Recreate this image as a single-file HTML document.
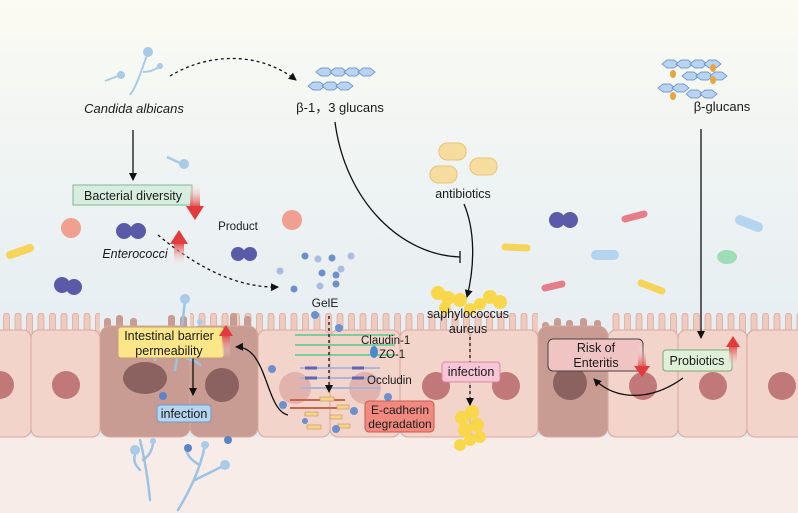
<!DOCTYPE html>
<html><head><meta charset="utf-8"><style>
html,body{margin:0;padding:0;width:798px;height:513px;overflow:hidden}
svg{display:block}
text{font-family:"Liberation Sans",sans-serif;fill:#1a1a1a}
</style></head><body>
<svg width="798" height="513" viewBox="0 0 798 513" xmlns="http://www.w3.org/2000/svg">
<defs>
<linearGradient id="bg" x1="0" y1="0" x2="0" y2="1">
<stop offset="0" stop-color="#fbfbf3"/><stop offset="0.35" stop-color="#eef3f3"/><stop offset="1" stop-color="#dfe8f1"/>
</linearGradient>
<linearGradient id="rd" x1="0" y1="0" x2="0" y2="1"><stop offset="0" stop-color="#fff" stop-opacity="0"/><stop offset="1" stop-color="#e23b3b"/></linearGradient>
<linearGradient id="ru" x1="0" y1="1" x2="0" y2="0"><stop offset="0" stop-color="#fff" stop-opacity="0"/><stop offset="1" stop-color="#e23b3b"/></linearGradient>
<marker id="ah" markerWidth="8" markerHeight="8" refX="7" refY="4" orient="auto" markerUnits="userSpaceOnUse"><path d="M0,0 L8,4 L0,8 Z" fill="#111"/></marker>
<pattern id="villi" x="3" y="313" width="11.5" height="30" patternUnits="userSpaceOnUse">
<rect x="0.5" y="0" width="6" height="24" rx="3" fill="#efcabf" stroke="#d6a597" stroke-width="0.7"/>
</pattern>
</defs>
<rect width="798" height="513" fill="url(#bg)"/>
<rect y="437" width="798" height="76" fill="#f8ece8"/>

<!-- microvilli -->
<rect x="0" y="313" width="100" height="22" fill="url(#villi)"/>
<rect x="190" y="313" width="348" height="22" fill="url(#villi)"/>
<rect x="608" y="313" width="190" height="22" fill="url(#villi)"/>
<!-- dark cell villi -->
<g fill="#c99c93">
<rect x="104" y="318" width="7" height="14" rx="3"/><rect x="116" y="315" width="7" height="14" rx="3"/><rect x="130" y="318" width="7" height="14" rx="3"/><rect x="168" y="315" width="7" height="14" rx="3"/><rect x="180" y="316" width="7" height="14" rx="3"/><rect x="230" y="313" width="7" height="18" rx="3"/><rect x="244" y="316" width="7" height="14" rx="3"/>
<rect x="542" y="322" width="7" height="12" rx="3"/><rect x="554" y="318" width="7" height="14" rx="3"/><rect x="566" y="320" width="7" height="14" rx="3"/><rect x="580" y="318" width="7" height="14" rx="3"/><rect x="594" y="320" width="7" height="14" rx="3"/>
</g>
<!-- cells -->
<g stroke="#d9a99c" stroke-width="1">
<rect x="-10" y="330" width="41" height="107" rx="8" fill="#f3d4ca"/>
<rect x="31" y="330" width="69" height="107" rx="8" fill="#f3d4ca"/>
<rect x="100" y="326" width="90" height="111" rx="10" fill="#c99c93"/>
<rect x="190" y="326" width="68" height="111" rx="10" fill="#c99c93"/>
<rect x="258" y="330" width="72" height="107" rx="8" fill="#f3d4ca"/>
<rect x="330" y="330" width="70" height="107" rx="8" fill="#f3d4ca"/>
<rect x="400" y="330" width="70" height="107" rx="8" fill="#f3d4ca"/>
<rect x="470" y="330" width="68" height="107" rx="8" fill="#f3d4ca"/>
<rect x="538" y="326" width="70" height="111" rx="10" fill="#c99c93"/>
<rect x="608" y="330" width="70" height="107" rx="8" fill="#f3d4ca"/>
<rect x="678" y="330" width="69" height="107" rx="8" fill="#f3d4ca"/>
<rect x="747" y="330" width="60" height="107" rx="8" fill="#f3d4ca"/>
</g>
<!-- nuclei -->
<g fill="#c07878">
<circle cx="0" cy="385" r="14"/><circle cx="66" cy="385" r="14"/><circle cx="436" cy="386" r="14"/><circle cx="506" cy="386" r="14"/><circle cx="643" cy="386" r="14"/><circle cx="713" cy="386" r="14"/><circle cx="782" cy="386" r="14"/>
</g>
<g fill="#e2b3ac"><circle cx="295" cy="388" r="16"/><circle cx="365" cy="388" r="16"/></g>
<g fill="#8c6260"><ellipse cx="145" cy="378" rx="22" ry="16"/><ellipse cx="222" cy="385" rx="17" ry="17"/><circle cx="570" cy="383" r="17"/></g>

<!-- tight junctions -->
<g fill="none" stroke-width="2">
<path d="M295,335 H395 M295,345 H395 M295,355 H395" stroke="#7ccc9c"/>
<path d="M300,368 H380 M300,378 H380 M300,388 H380" stroke="#aab6e0"/>
<path d="M305,368 h12 M305,378 h12 M352,368 h12 M352,378 h12" stroke="#5a66b8" stroke-width="3"/>
<path d="M290,400 H345 M290,408 H345" stroke="#c8654f"/>
</g>
<g fill="#f5d48e" stroke="#c8914f" stroke-width="0.6">
<rect x="320" y="397" width="14" height="4"/><rect x="337" y="405" width="12" height="4"/><rect x="305" y="412" width="13" height="4"/><rect x="330" y="415" width="12" height="4"/><rect x="307" y="425" width="14" height="4"/><rect x="338" y="424" width="12" height="4"/>
</g>
<ellipse cx="374" cy="352" rx="4" ry="6" fill="#4b8ac9"/>
<g fill="#6c8fcf">
<circle cx="315" cy="315" r="4"/><circle cx="339" cy="328" r="4"/><circle cx="272" cy="369" r="4"/><circle cx="388" cy="397" r="4"/><circle cx="283" cy="405" r="4"/><circle cx="354" cy="411" r="4"/><circle cx="336" cy="429" r="4"/><circle cx="305" cy="421" r="3"/>
</g>

<!-- candida hyphae -->
<g stroke="#9cc3e3" stroke-width="2.5" fill="none" stroke-linecap="round">
<path d="M185,300 C183,320 180,345 175,370 M175,335 C165,340 160,345 155,360 M178,355 C190,360 196,360 200,365"/>
<path d="M150,500 C148,480 145,460 140,440 M143,460 C150,455 152,450 153,443 M140,470 C135,465 133,460 135,455"/>
<path d="M178,510 C190,490 200,470 205,445 M195,480 C205,475 215,470 225,465 M200,465 C190,460 188,455 186,450"/>
</g>
<g fill="#a9cbe8"><circle cx="185" cy="299" r="5"/><circle cx="200" cy="322" r="3"/><circle cx="135" cy="450" r="5"/><circle cx="153" cy="441" r="3"/><circle cx="225" cy="465" r="5"/><circle cx="205" cy="445" r="4"/></g>
<g fill="#5c84c4"><circle cx="163" cy="396" r="4"/><circle cx="188" cy="448" r="4"/><circle cx="228" cy="440" r="4"/></g>

<!-- staph -->
<g fill="#f8d84a">
<circle cx="438" cy="293" r="7"/><circle cx="448" cy="298" r="7"/><circle cx="460" cy="300" r="7"/><circle cx="490" cy="297" r="7"/><circle cx="500" cy="302" r="7"/><circle cx="480" cy="304" r="6"/><circle cx="470" cy="309" r="6"/><circle cx="445" cy="308" r="6"/>
<circle cx="462" cy="418" r="7"/><circle cx="472" cy="412" r="7"/><circle cx="477" cy="425" r="7"/><circle cx="465" cy="430" r="7"/><circle cx="470" cy="440" r="6"/><circle cx="460" cy="445" r="6"/><circle cx="480" cy="437" r="6"/>
</g>

<!-- free bacteria -->
<g>
<circle cx="62" cy="285" r="8" fill="#5a5aa8"/><circle cx="74" cy="287" r="8" fill="#5a5aa8"/>
<circle cx="124" cy="231" r="8" fill="#5a5aa8"/><circle cx="138" cy="231" r="8" fill="#5a5aa8"/>
<circle cx="238" cy="254" r="7" fill="#5a5aa8"/><circle cx="250" cy="254" r="7" fill="#5a5aa8"/>
<circle cx="557" cy="220" r="8" fill="#5a5aa8"/><circle cx="570" cy="220" r="8" fill="#5a5aa8"/>
<circle cx="71" cy="228" r="10" fill="#f0a090"/><circle cx="292" cy="220" r="10" fill="#f0a090"/>
<line x1="10" y1="255" x2="30" y2="248" stroke="#f6d45a" stroke-width="8" stroke-linecap="round"/>
<line x1="505" y1="247" x2="527" y2="248" stroke="#f6d45a" stroke-width="7" stroke-linecap="round"/>
<line x1="641" y1="283" x2="662" y2="291" stroke="#f6d45a" stroke-width="7" stroke-linecap="round"/>
<line x1="625" y1="219" x2="644" y2="214" stroke="#e77d8a" stroke-width="7" stroke-linecap="round"/>
<line x1="545" y1="288" x2="562" y2="284" stroke="#e77d8a" stroke-width="7" stroke-linecap="round"/>
<line x1="596" y1="255" x2="614" y2="255" stroke="#b4d4ef" stroke-width="10" stroke-linecap="round"/>
<line x1="740" y1="220" x2="758" y2="227" stroke="#b4d4ef" stroke-width="10" stroke-linecap="round"/>
<ellipse cx="727" cy="257" rx="10" ry="7" fill="#9fdcb8"/>
<circle cx="184" cy="164" r="5" fill="#a9cbe8"/><path d="M167,157 L182,164" stroke="#a9cbe8" stroke-width="2.5"/>
</g>
<g fill="#6c8fcf"><circle cx="305" cy="256" r="3.5"/><circle cx="332" cy="258" r="3.5"/><circle cx="322" cy="273" r="3.5"/><circle cx="336" cy="275" r="3.5"/><circle cx="294" cy="289" r="3.5"/><circle cx="336" cy="284" r="3.5"/></g>
<g fill="#aabde0"><circle cx="318" cy="259" r="3.5"/><circle cx="351" cy="256" r="3.5"/><circle cx="341" cy="269" r="3.5"/><circle cx="280" cy="271" r="3.5"/><circle cx="320" cy="286" r="3.5"/></g>

<!-- candida top -->
<g stroke="#a9cbe8" stroke-width="2" fill="none"><path d="M130,95 C137,85 140,75 148,52 M143,72 C150,72 155,70 160,66 M105,81 L118,76"/></g>
<g fill="#a9cbe8"><circle cx="148" cy="52" r="5"/><circle cx="160" cy="66" r="3"/><circle cx="121" cy="75" r="4"/></g>

<!-- glucans -->
<g fill="#b8d4f0" stroke="#5a85c8" stroke-width="0.8">
<path id="hx" d="M0,0 l5,-4 h7 l5,4 l-5,4 h-7 z" transform="translate(316,72)"/>
<use href="#hx" x="14"/><use href="#hx" x="28"/><use href="#hx" x="42"/>
<use href="#hx" x="-8" y="14"/><use href="#hx" x="6" y="14"/><use href="#hx" x="20" y="14"/>
<g transform="translate(346,-8)"><use href="#hx" x="0" y="0"/><use href="#hx" x="14" y="0"/><use href="#hx" x="28" y="0"/><use href="#hx" x="42" y="0"/>
<use href="#hx" x="20" y="12"/><use href="#hx" x="34" y="12"/><use href="#hx" x="48" y="12"/>
<use href="#hx" x="-4" y="24"/><use href="#hx" x="10" y="24"/><use href="#hx" x="24" y="30"/><use href="#hx" x="38" y="30"/></g>
</g>
<g fill="#e8a540" transform="translate(346,-8)"><ellipse cx="327" cy="82" rx="3" ry="4"/><ellipse cx="327" cy="104" rx="3" ry="4"/><ellipse cx="367" cy="76" rx="3" ry="4"/><ellipse cx="367" cy="88" rx="3" ry="4"/></g>

<!-- pills -->
<g fill="#f7dca0" stroke="#e8c47a" stroke-width="1">
<rect x="439" y="143" width="27" height="17" rx="8"/><rect x="430" y="166" width="27" height="17" rx="8"/><rect x="470" y="158" width="27" height="17" rx="8"/>
</g>

<!-- arrows -->
<g fill="none" stroke="#111" stroke-width="1.3">
<path d="M170,76 C210,52 260,52 296,80" stroke-dasharray="3,3" marker-end="url(#ah)"/>
<path d="M133,130 V180" marker-end="url(#ah)"/>
<path d="M158,235 C200,270 240,288 278,287" stroke-dasharray="3,3" marker-end="url(#ah)"/>
<path d="M335,122 C345,200 400,255 460,257"/><path d="M460,251 V263"/>
<path d="M464,204 C475,230 475,265 467,297" marker-end="url(#ah)"/>
<path d="M701,129 V338" marker-end="url(#ah)"/>
<path d="M329,316 V392" stroke-dasharray="3,3" marker-end="url(#ah)"/>
<path d="M470,337 V405" stroke-dasharray="3,3" marker-end="url(#ah)"/>
<path d="M193,336 V395" marker-end="url(#ah)"/>
<path d="M288,415 C265,410 268,346 236,347" marker-end="url(#ah)"/>
<path d="M683,378 C650,402 615,400 594,379" marker-end="url(#ah)"/>
</g>

<!-- boxes -->
<rect x="73" y="185" width="119" height="20" fill="#d6ede0" stroke="#7cb89a"/>
<text x="133" y="200" font-size="12.5" text-anchor="middle">Bacterial diversity</text>
<rect x="190" y="182" width="10" height="26" fill="url(#rd)"/><path d="M186,206 L195,220 L204,206 Z" fill="#e23b3b"/>
<rect x="174" y="242" width="10" height="26" fill="url(#ru)"/><path d="M170,244 L179,230 L188,244 Z" fill="#e23b3b"/>

<rect x="118" y="327" width="106" height="31" rx="3" fill="#fbe78a" stroke="#c99c7a"/>
<text x="169" y="340" font-size="12.5" text-anchor="middle">Intestinal barrier</text>
<text x="169" y="355" font-size="12.5" text-anchor="middle">permeability</text>
<rect x="222" y="334" width="8" height="24" fill="url(#ru)"/><path d="M219,336 L226,325 L233,336 Z" fill="#e23b3b"/>
<rect x="157" y="405" width="54" height="17" rx="3" fill="#b4d4ef" stroke="#6a9cc8"/>
<text x="184" y="418" font-size="12.5" text-anchor="middle">infection</text>

<rect x="365" y="401" width="69" height="31" rx="4" fill="#f08a80" stroke="#c85a50"/>
<text x="400" y="414" font-size="12" text-anchor="middle">E-cadherin</text>
<text x="400" y="428" font-size="12" text-anchor="middle">degradation</text>

<rect x="442" y="362" width="58" height="20" rx="3" fill="#f7c6d6" stroke="#d888a0"/>
<text x="471" y="376" font-size="12.5" text-anchor="middle">infection</text>

<rect x="548" y="339" width="95" height="32" rx="5" fill="#f1c4c4" stroke="#444"/>
<text x="596" y="352" font-size="12.5" text-anchor="middle">Risk of</text>
<text x="596" y="367" font-size="12.5" text-anchor="middle">Enteritis</text>
<rect x="638" y="345" width="8" height="24" fill="url(#rd)"/><path d="M634,366 L642,377 L650,366 Z" fill="#e23b3b"/>
<rect x="663" y="350" width="69" height="21" rx="3" fill="#e0f0d8" stroke="#7aa878"/>
<text x="697" y="365" font-size="12.5" text-anchor="middle">Probiotics</text>
<rect x="729" y="345" width="8" height="24" fill="url(#ru)"/><path d="M726,347 L733,336 L740,347 Z" fill="#e23b3b"/>

<!-- labels -->
<text x="134" y="113" font-size="13" font-style="italic" text-anchor="middle">Candida albicans</text>
<text x="340" y="112" font-size="13" text-anchor="middle">β-1，3 glucans</text>
<text x="463" y="198" font-size="12.5" text-anchor="middle">antibiotics</text>
<text x="722" y="111" font-size="13" text-anchor="middle">β-glucans</text>
<text x="238" y="230" font-size="11.5" text-anchor="middle">Product</text>
<text x="135" y="258" font-size="12.5" font-style="italic" text-anchor="middle">Enterococci</text>
<text x="325" y="307" font-size="12" text-anchor="middle">GelE</text>
<text x="468" y="318" font-size="12.5" text-anchor="middle">saphylococcus</text>
<text x="468" y="333" font-size="12.5" text-anchor="middle">aureus</text>
<text x="361" y="344" font-size="11.5">Claudin-1</text>
<text x="379" y="358" font-size="11.5">ZO-1</text>
<text x="367" y="384" font-size="11.5">Occludin</text>
</svg>
</body></html>
